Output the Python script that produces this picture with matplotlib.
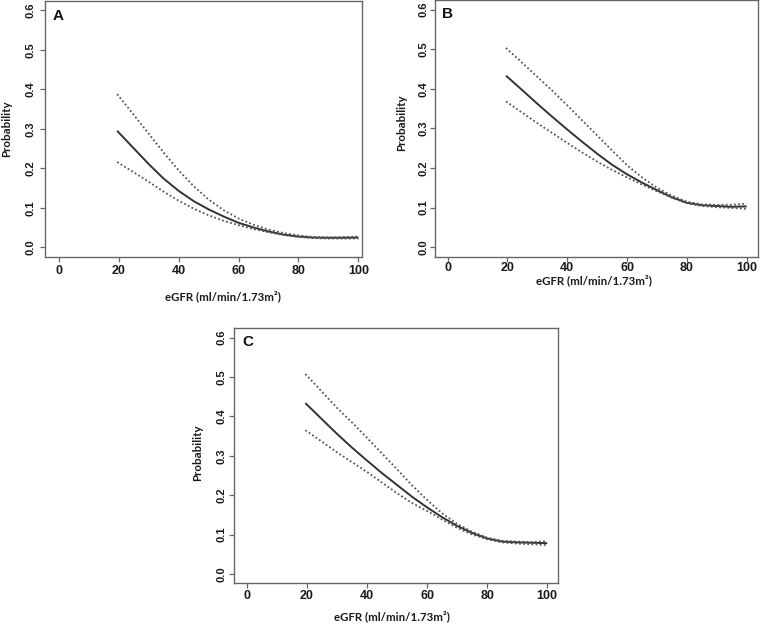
import matplotlib
matplotlib.use("Agg")
import matplotlib.pyplot as plt

# ---------------- data ----------------
egfr = [19.5, 25, 30, 35, 40, 45, 50, 55, 60, 65, 70, 75, 80, 85, 90, 95, 100]

a_fit   = [0.295, 0.251, 0.211, 0.174, 0.143, 0.117, 0.096, 0.078, 0.062, 0.050, 0.040, 0.032, 0.027, 0.0245, 0.024, 0.024, 0.0245]
a_upper = [0.388, 0.336, 0.288, 0.240, 0.195, 0.155, 0.121, 0.094, 0.073, 0.057, 0.045, 0.036, 0.030, 0.026, 0.025, 0.026, 0.027]
a_lower = [0.216, 0.190, 0.166, 0.141, 0.118, 0.098, 0.081, 0.067, 0.056, 0.046, 0.038, 0.031, 0.026, 0.023, 0.022, 0.022, 0.022]

b_fit   = [0.433, 0.396, 0.362, 0.329, 0.297, 0.266, 0.236, 0.208, 0.184, 0.163, 0.144, 0.126, 0.112, 0.106, 0.104, 0.102, 0.103]
b_upper = [0.503, 0.465, 0.430, 0.395, 0.358, 0.320, 0.282, 0.244, 0.207, 0.176, 0.150, 0.130, 0.115, 0.108, 0.107, 0.107, 0.110]
b_lower = [0.368, 0.339, 0.313, 0.288, 0.263, 0.239, 0.216, 0.195, 0.176, 0.158, 0.141, 0.125, 0.111, 0.104, 0.101, 0.099, 0.097]

c_fit   = [0.434, 0.393, 0.356, 0.321, 0.288, 0.256, 0.226, 0.196, 0.169, 0.144, 0.122, 0.104, 0.090, 0.082, 0.080, 0.079, 0.078]
c_upper = [0.508, 0.463, 0.422, 0.385, 0.346, 0.306, 0.266, 0.225, 0.188, 0.154, 0.127, 0.107, 0.092, 0.084, 0.082, 0.081, 0.083]
c_lower = [0.365, 0.336, 0.309, 0.284, 0.259, 0.232, 0.205, 0.180, 0.160, 0.138, 0.117, 0.100, 0.088, 0.080, 0.077, 0.075, 0.073]

x_ticks = [0, 20, 40, 60, 80, 100]
y_ticks = [0.0, 0.1, 0.2, 0.3, 0.4, 0.5, 0.6]
y_ticklabels = ["0.0", "0.1", "0.2", "0.3", "0.4", "0.5", "0.6"]
panel_letters = ["A", "B", "C"]
x_label = "eGFR (ml/min/1.73m\u00b2)"
y_label = "Probability"

# ---------------- layout ----------------
W, H = 760, 624
fig = plt.figure(figsize=(W / 100, H / 100), dpi=100)

def px_axes(l, t, r, b):
    return [l / W, 1 - b / H, (r - l) / W, (b - t) / H]

panels = [
    dict(rect=px_axes(45, 1, 362, 256.7), xlim=(-4.57, 101.2),
         fit=a_fit, up=a_upper, lo=a_lower, xpad=2.7, ypad=3.3,
         xlab=(0.56, -0.154), ylab=(-0.12, 0.50),
         letter=(0.025, 0.969)),
    dict(rect=px_axes(435, 0, 757.7, 256.7), xlim=(-4.25, 103.7),
         fit=b_fit, up=b_upper, lo=b_lower, xpad=0.0, ypad=1.4,
         xlab=(0.492, -0.090), ylab=(-0.102, 0.523),
         letter=(0.022, 0.973)),
    dict(rect=px_axes(234.3, 328.3, 558.3, 583.3), xlim=(-4.15, 103.7),
         fit=c_fit, up=c_upper, lo=c_lower, xpad=0.9, ypad=2.1,
         xlab=(0.488, -0.128), ylab=(-0.112, 0.513),
         letter=(0.024, 0.974)),
]

box_col = "#666666"
txt_col = "#1a1a1a"
label_fs = 8.3

for p, letter in zip(panels, panel_letters):
    ax = fig.add_axes(p["rect"])
    ax.plot(egfr, p["fit"], color="#333333", lw=1.4, solid_capstyle="butt")
    ax.plot(egfr, p["up"], color="#555555", lw=1.3, dashes=(1.0, 1.3))
    ax.plot(egfr, p["lo"], color="#555555", lw=1.3, dashes=(1.0, 1.3))
    ax.set_xlim(*p["xlim"])
    ax.set_ylim(-0.024, 0.624)
    ax.set_xticks(x_ticks)
    ax.set_yticks(y_ticks)
    ax.set_yticklabels(y_ticklabels)
    for s in ax.spines.values():
        s.set_color(box_col)
        s.set_linewidth(1.0)
    ax.tick_params(axis="both", direction="out", length=3.6, width=0.9,
                   color=box_col, labelcolor=txt_col)
    ax.tick_params(axis="x", pad=p["xpad"], labelsize=9)
    ax.tick_params(axis="y", pad=p["ypad"], labelsize=8)
    for t in ax.get_xticklabels():
        t.set_fontfamily("Liberation Sans")
        t.set_fontweight("bold")
    for t in ax.get_yticklabels():
        t.set_fontfamily("Liberation Sans")
        t.set_fontweight("bold")
        t.set_rotation(90)
        t.set_va("center")
        t.set_ha("right")
    xl = ax.set_xlabel(x_label, fontsize=label_fs, fontweight="bold",
                       family="Lato", color=txt_col)
    ax.xaxis.set_label_coords(*p["xlab"])
    xl.set_va("center")
    yl = ax.set_ylabel(y_label, fontsize=label_fs, fontweight="bold",
                       family="Lato", color=txt_col)
    ax.yaxis.set_label_coords(*p["ylab"])
    yl.set_va("center")
    ax.text(p["letter"][0], p["letter"][1], letter, transform=ax.transAxes,
            ha="left", va="top", fontsize=11, fontweight="bold",
            family="Liberation Sans", color="#111111")

fig.savefig("out.png", dpi=100, facecolor="white")
